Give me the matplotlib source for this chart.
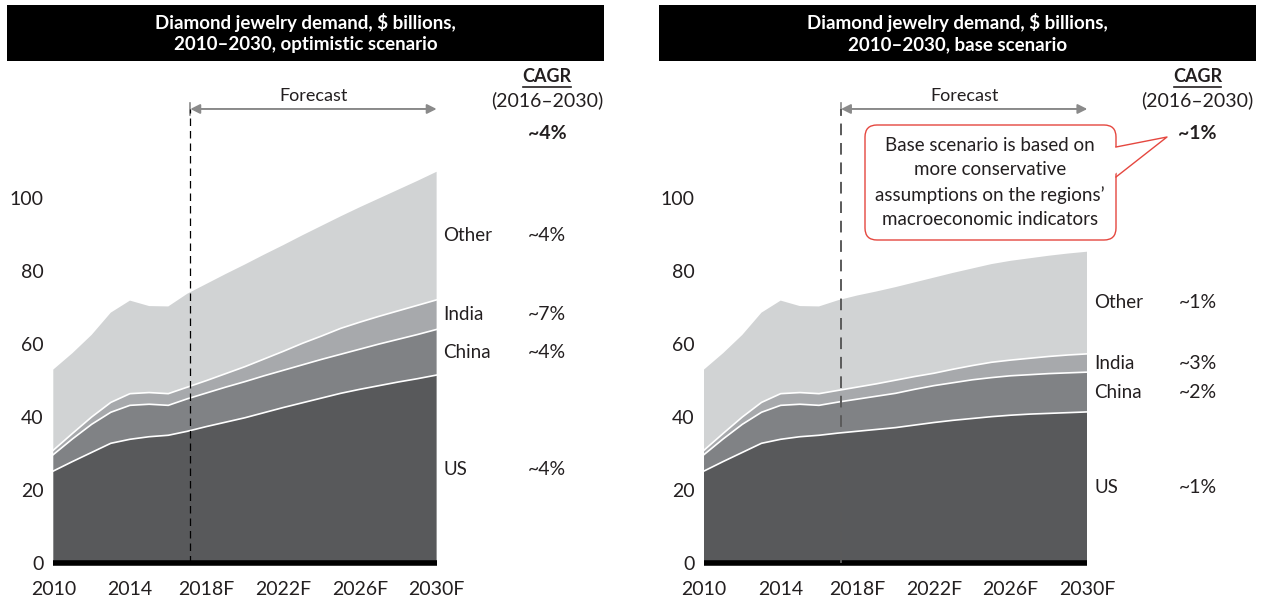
import matplotlib.pyplot as plt
from matplotlib.patches import FancyBboxPatch, Rectangle, Polygon
import numpy as np

plt.rcParams['font.family'] = ['Lato', 'DejaVu Sans']

# years on the x axis, 2010-2016 actuals, 2017-2030 forecast
years = list(range(2010, 2031))

# actual demand by region, $ billions (2010-2016)
us_hist = [25.2, 27.8, 30.3, 32.8, 33.9, 34.6, 35.0]
china_hist = [4.5, 6.2, 7.7, 8.5, 9.3, 8.9, 8.2]
india_hist = [1.2, 1.5, 2.0, 2.7, 3.2, 3.2, 3.2]
other_hist = [22.1, 22.0, 22.5, 24.6, 25.5, 23.7, 23.9]

# optimistic scenario (2017-2030)
us_opt = [36.1, 37.4, 38.6, 39.8, 41.2, 42.6, 43.9, 45.2, 46.5, 47.6, 48.6, 49.6, 50.5, 51.5]
china_opt = [8.9, 9.2, 9.6, 9.9, 10.1, 10.2, 10.4, 10.6, 10.7, 11.0, 11.4, 11.7, 12.1, 12.5]
india_opt = [3.2, 3.4, 3.7, 4.1, 4.6, 5.2, 5.9, 6.4, 7.1, 7.4, 7.6, 7.8, 8.0, 8.1]
other_opt = [25.6, 26.5, 27.3, 28.0, 28.6, 29.1, 29.6, 30.2, 30.7, 31.5, 32.3, 33.2, 34.1, 35.1]

# base scenario (2017-2030)
us_base = [35.6, 36.1, 36.6, 37.1, 37.8, 38.5, 39.1, 39.6, 40.1, 40.5, 40.8, 41.0, 41.2, 41.4]
china_base = [8.5, 8.8, 9.1, 9.4, 9.8, 10.1, 10.3, 10.6, 10.7, 10.8, 10.8, 10.9, 10.9, 10.9]
india_base = [3.2, 3.3, 3.4, 3.6, 3.5, 3.4, 3.7, 3.9, 4.2, 4.3, 4.5, 4.7, 4.9, 5.0]
other_base = [24.7, 25.1, 25.3, 25.5, 25.8, 26.2, 26.4, 26.6, 26.9, 27.2, 27.4, 27.6, 27.8, 28.0]

regions = ["US", "China", "India", "Other"]
cagr_opt = ["~4%", "~4%", "~7%", "~4%"]
cagr_base = ["~1%", "~2%", "~3%", "~1%"]
total_cagr_opt = "~4%"
total_cagr_base = "~1%"

xticks = [2010, 2014, 2018, 2022, 2026, 2030]
xticklabels = ["2010", "2014", "2018F", "2022F", "2026F", "2030F"]
yticks = [0, 20, 40, 60, 80, 100]

colors = ["#58595b", "#808285", "#a7a9ac", "#d1d3d4"]
text_color = "#231f20"
forecast_start = 2017.15


def draw_panel(ax, layers, cagrs, total_cagr, dash_color, dash_lw):
    x = np.array(years)
    data = np.array(layers)
    ax.stackplot(x, data, colors=colors, linewidth=0)

    # white separators between regions
    tops = np.cumsum(data, axis=0)
    for top in tops[:3]:
        ax.plot(x, top, color="white", lw=1.2, zorder=3)

    # zero baseline
    ax.plot([2010, 2030], [0, 0], color="black", lw=4, solid_capstyle="butt",
            clip_on=False, zorder=4)

    ax.set_xlim(2010, 2030)
    ax.set_ylim(0, 110)
    for s in ax.spines.values():
        s.set_visible(False)
    ax.set_xticks(xticks)
    ax.set_xticklabels(xticklabels)
    ax.set_yticks(yticks)
    ax.tick_params(length=0, labelsize=14, labelcolor=text_color)
    ax.tick_params(axis="x", pad=13)
    ax.tick_params(axis="y", pad=7)

    # region labels and growth rates next to the 2030 values
    bottoms = np.vstack([np.zeros(len(x)), tops[:-1]])
    for i, name in enumerate(regions):
        ymid = (bottoms[i][-1] + tops[i][-1]) / 2
        ax.text(2030.35, ymid, name, ha="left", va="center", fontsize=13.5,
                color=text_color, clip_on=False)
        ax.text(2035.75, ymid, cagrs[i], ha="center", va="center", fontsize=14,
                color=text_color, clip_on=False)

    # CAGR column header
    ax.text(2035.75, 133.4, "CAGR", ha="center", va="center", fontsize=13,
            fontweight="bold", color=text_color, clip_on=False)
    ax.plot([2034.5, 2037.0], [130.4, 130.4], color=text_color, lw=1.2, clip_on=False)
    ax.text(2035.75, 126.8, "(2016\u20132030)", ha="center", va="center", fontsize=14,
            color=text_color, clip_on=False)
    ax.text(2035.75, 117.8, total_cagr, ha="center", va="center", fontsize=14,
            fontweight="bold", color=text_color, clip_on=False)

    # forecast marker
    ax.plot([forecast_start, forecast_start], [0, 124.4], color=dash_color, lw=dash_lw,
            dashes=(6, 4), clip_on=False, zorder=5)
    ax.plot([forecast_start, forecast_start], [122.8, 126.0], color="#8a8a8a", lw=1.2,
            clip_on=False)
    ax.annotate("", xy=(2030, 124.4), xytext=(forecast_start, 124.4),
                arrowprops=dict(arrowstyle="<|-|>", color="#8a8a8a", lw=1.4,
                                shrinkA=0, shrinkB=0, mutation_scale=14),
                annotation_clip=False)
    ax.text((forecast_start + 2030) / 2, 127.9, "Forecast", ha="center", va="center",
            fontsize=13, color=text_color, clip_on=False)


fig = plt.figure(figsize=(12.63, 6.05), dpi=100)

ax1 = fig.add_axes([0.0422, 0.0694, 0.3035, 0.6636])
ax2 = fig.add_axes([0.5574, 0.0694, 0.3035, 0.6636])

layers_opt = [us_hist + us_opt, china_hist + china_opt,
              india_hist + india_opt, other_hist + other_opt]
layers_base = [us_hist + us_base, china_hist + china_base,
               india_hist + india_base, other_hist + other_base]

draw_panel(ax1, layers_opt, cagr_opt, total_cagr_opt, "black", 0.9)
draw_panel(ax2, layers_base, cagr_base, total_cagr_base, "#5a5a5a", 1.4)

# overlay in pixel units for headers and the callout
ov = fig.add_axes([0, 0, 1, 1], facecolor="none")
ov.set_xlim(0, 1263)
ov.set_ylim(605, 0)
ov.axis("off")

titles = ["Diamond jewelry demand, $ billions,\n2010\u20132030, optimistic scenario",
          "Diamond jewelry demand, $ billions,\n2010\u20132030, base scenario"]
for x0, title in zip([7, 659], titles):
    ov.add_patch(Rectangle((x0, 5), 597, 56, facecolor="black", edgecolor="none"))
    ov.text(x0 + 298.5, 33, title, ha="center", va="center", color="white",
            fontsize=13.5, fontweight="bold", linespacing=1.3)

# callout on the base scenario
red = "#e5473f"
ov.add_patch(FancyBboxPatch((865, 125), 251, 115,
                            boxstyle="round,pad=0,rounding_size=12",
                            facecolor="white", edgecolor=red, lw=1.0, zorder=2))
ov.add_patch(Polygon([(1112, 148), (1167, 137), (1112, 176)], closed=True,
                     facecolor="white", edgecolor="none", zorder=3))
ov.plot([1116, 1167, 1116], [147, 137, 177], color=red, lw=1.0, zorder=4)
ov.text(990, 182.5, "Base scenario is based on\nmore conservative\n"
        "assumptions on the regions\u2019\nmacroeconomic indicators",
        ha="center", va="center", fontsize=13.5, color=text_color,
        linespacing=1.5, zorder=5)

fig.savefig("out.png", dpi=100)
